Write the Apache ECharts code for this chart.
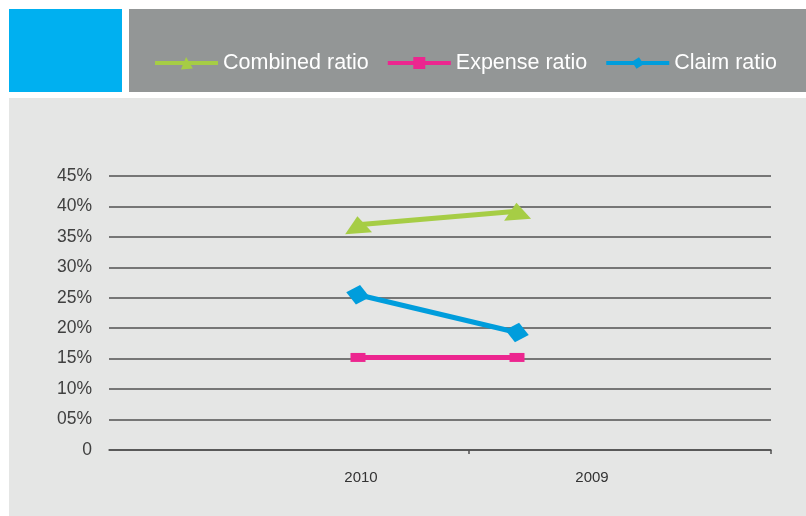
<!DOCTYPE html>
<html>
<head>
<meta charset="utf-8">
<script src="https://cdn.jsdelivr.net/npm/echarts@6/dist/echarts.min.js"></script>
<style>
  html, body { margin: 0; padding: 0; background: #ffffff; }
  #chart { width: 806px; height: 516px; }
</style>
</head>
<body>
<div id="chart"></div>
<script>
// Ratios by year, in percent
const CATEGORIES = ['2010', '2009'];
const COMBINED_RATIO = [37.0, 39.2];
const EXPENSE_RATIO = [15.2, 15.2];
const CLAIM_RATIO = [25.5, 19.3];
const Y_TICK_LABELS = ['0', '05%', '10%', '15%', '20%', '25%', '30%', '35%', '40%', '45%'];
const SERIES_NAMES = ['Combined ratio', 'Expense ratio', 'Claim ratio'];

const FONT = '"Liberation Sans", Arial, sans-serif';
const GRID_LINE = '#505050';
const Y_MIN = 0, Y_MAX = 45, Y_STEP = 5;
const PLOT_TOP = 176, PLOT_BOTTOM = 66;

const chart = echarts.init(document.getElementById('chart'), null, { renderer: 'canvas' });

chart.setOption({
  animation: false,
  backgroundColor: '#ffffff',
  graphic: [
    { type: 'rect', z: -10, silent: true, shape: { x: 9, y: 9, width: 113, height: 83 }, style: { fill: '#00b0f0' } },
    { type: 'rect', z: -10, silent: true, shape: { x: 129, y: 9, width: 677, height: 83 }, style: { fill: '#939696' } },
    { type: 'rect', z: -10, silent: true, shape: { x: 9, y: 98, width: 797, height: 418 }, style: { fill: '#e5e6e5' } }
  ],
  legend: {
    left: 153,
    top: 52,
    padding: 0,
    itemWidth: 63,
    itemHeight: 15,
    itemGap: 17,
    lineStyle: { width: 4 },
    textStyle: { color: '#ffffff', fontSize: 21.5, fontFamily: FONT },
    data: SERIES_NAMES
  },
  grid: [
    // axes frame: y labels, gridlines, baseline
    { left: 109, right: 35, top: PLOT_TOP, bottom: PLOT_BOTTOM },
    // line series
    { left: 358, right: 289, top: PLOT_TOP, bottom: PLOT_BOTTOM },
    // year labels
    { left: 245.5, right: 98.5, top: PLOT_TOP, bottom: PLOT_BOTTOM },
    // baseline tick marks
    { left: 469, right: 35, top: PLOT_TOP, bottom: PLOT_BOTTOM }
  ],
  xAxis: [
    {
      gridIndex: 0, type: 'category', data: CATEGORIES, boundaryGap: true,
      axisLine: { show: true, lineStyle: { color: GRID_LINE, width: 1.5 } },
      axisTick: { show: false }, axisLabel: { show: false }, splitLine: { show: false }
    },
    {
      gridIndex: 1, type: 'category', data: CATEGORIES, boundaryGap: false, show: false
    },
    {
      gridIndex: 2, type: 'category', data: CATEGORIES, boundaryGap: true,
      axisLine: { show: false }, axisTick: { show: false }, splitLine: { show: false },
      axisLabel: { margin: 20, color: '#333333', fontSize: 15, fontFamily: FONT }
    },
    {
      gridIndex: 3, type: 'value', min: 0, max: 1, interval: 1,
      axisLine: { show: false }, axisLabel: { show: false }, splitLine: { show: false },
      axisTick: { show: true, length: 4, lineStyle: { color: GRID_LINE, width: 1.5 } }
    }
  ],
  yAxis: [
    {
      gridIndex: 0, type: 'value', min: Y_MIN, max: Y_MAX, interval: Y_STEP,
      axisLine: { show: false }, axisTick: { show: false },
      splitLine: { show: true, lineStyle: { color: GRID_LINE, width: 1.5 } },
      axisLabel: {
        margin: 17, color: '#404040', fontSize: 17.5, fontFamily: FONT,
        formatter: (v) => Y_TICK_LABELS[Math.round(v / Y_STEP)]
      }
    },
    { gridIndex: 1, type: 'value', min: Y_MIN, max: Y_MAX, interval: Y_STEP, show: false, splitLine: { show: false } },
    { gridIndex: 2, type: 'value', min: Y_MIN, max: Y_MAX, interval: Y_STEP, show: false, splitLine: { show: false } },
    { gridIndex: 3, type: 'value', min: Y_MIN, max: Y_MAX, interval: Y_STEP, show: false, splitLine: { show: false } }
  ],
  series: [
    {
      name: SERIES_NAMES[0], type: 'line', xAxisIndex: 1, yAxisIndex: 1,
      data: COMBINED_RATIO,
      symbol: 'triangle', symbolSize: [27, 17], symbolRotate: 4,
      lineStyle: { color: '#a6cd45', width: 5 },
      itemStyle: { color: '#a6cd45' }
    },
    {
      name: SERIES_NAMES[1], type: 'line', xAxisIndex: 1, yAxisIndex: 1,
      data: EXPENSE_RATIO,
      symbol: 'rect', symbolSize: [15, 9],
      lineStyle: { color: '#ec268f', width: 5 },
      itemStyle: { color: '#ec268f' }
    },
    {
      name: SERIES_NAMES[2], type: 'line', xAxisIndex: 1, yAxisIndex: 1,
      data: CLAIM_RATIO,
      symbol: 'diamond', symbolSize: [24, 20], symbolRotate: -12,
      lineStyle: { color: '#009ddc', width: 5 },
      itemStyle: { color: '#009ddc' }
    }
  ]
});
</script>
</body>
</html>
